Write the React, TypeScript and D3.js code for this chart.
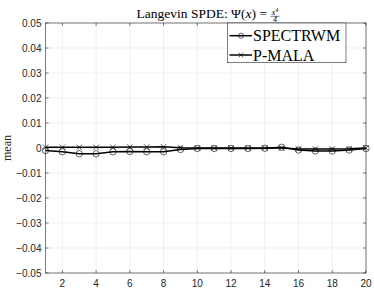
import React, { useEffect, useRef } from "react";
import * as d3 from "d3";

// iteration index
const steps = [1, 2, 3, 4, 5, 6, 7, 8, 9, 10, 11, 12, 13, 14, 15, 16, 17, 18, 19, 20];
// mean estimates
const spectrwm = [
  -0.001, -0.0015, -0.0023, -0.0023, -0.0015, -0.0014, -0.0015, -0.0015, -0.0006, -0.0002,
  -0.0002, -0.0002, -0.0002, -0.0001, 0.0003, -0.0008, -0.0012, -0.0012, -0.0008, -0.0002,
];
const pmala = [
  0.0003, 0.0003, 0.0003, 0.0003, 0.0003, 0.0004, 0.0004, 0.0005, 0.0001, 0.0,
  0.0, 0.0, 0.0, 0.0, 0.0, -0.0004, -0.0004, -0.0004, -0.0003, 0.0,
];
const xTicks = [2, 4, 6, 8, 10, 12, 14, 16, 18, 20];
const yTicks = [-0.05, -0.04, -0.03, -0.02, -0.01, 0, 0.01, 0.02, 0.03, 0.04, 0.05];
const seriesNames = ["SPECTRWM", "P-MALA"];

const W = 374;
const H = 292;
const margin = { top: 23, right: 8, bottom: 19, left: 45.5 };

export default function App() {
  const ref = useRef<SVGSVGElement>(null);

  useEffect(() => {
    const svg = d3.select(ref.current);
    svg.selectAll("*").remove();

    const x = d3.scaleLinear().domain([1, 20]).range([margin.left, W - margin.right]);
    const y = d3.scaleLinear().domain([-0.05, 0.05]).range([H - margin.bottom, margin.top]);
    const [x0, x1] = x.range();
    const [y0, y1] = y.range();

    svg.append("rect").attr("x", x0).attr("y", y1).attr("width", x1 - x0).attr("height", y0 - y1).attr("fill", "#fff");

    // grid
    const grid = svg.append("g").attr("stroke", "#e6e6e6").attr("stroke-width", 0.6);
    xTicks.forEach((t) => grid.append("line").attr("x1", x(t)).attr("x2", x(t)).attr("y1", y0).attr("y2", y1));
    yTicks.forEach((t) => grid.append("line").attr("x1", x0).attr("x2", x1).attr("y1", y(t)).attr("y2", y(t)));

    // lines + markers
    const line = d3
      .line<number>()
      .x((d, i) => x(steps[i]))
      .y((d) => y(d));

    svg.append("path").datum(spectrwm).attr("fill", "none").attr("stroke", "#000").attr("stroke-width", 1.5).attr("d", line);
    svg.append("path").datum(pmala).attr("fill", "none").attr("stroke", "#000").attr("stroke-width", 1.5).attr("d", line);

    svg
      .append("g")
      .selectAll("circle")
      .data(spectrwm)
      .join("circle")
      .attr("cx", (d, i) => x(steps[i]))
      .attr("cy", (d) => y(d))
      .attr("r", 3.2)
      .attr("fill", "none")
      .attr("stroke", "#000")
      .attr("stroke-width", 0.6);

    const cross = d3.symbol().type(d3.symbolX).size(22);
    svg
      .append("g")
      .selectAll("path")
      .data(pmala)
      .join("path")
      .attr("transform", (d, i) => `translate(${x(steps[i])},${y(d)})`)
      .attr("d", cross)
      .attr("fill", "none")
      .attr("stroke", "#000")
      .attr("stroke-width", 0.6);

    // axes box and ticks (MATLAB style, ticks inward)
    const ax = svg.append("g").attr("stroke", "#262626").attr("stroke-width", 0.6);
    ax.append("rect").attr("x", x0).attr("y", y1).attr("width", x1 - x0).attr("height", y0 - y1).attr("fill", "none");
    xTicks.forEach((t) => {
      ax.append("line").attr("x1", x(t)).attr("x2", x(t)).attr("y1", y0).attr("y2", y0 - 3);
      ax.append("line").attr("x1", x(t)).attr("x2", x(t)).attr("y1", y1).attr("y2", y1 + 3);
    });
    yTicks.forEach((t) => {
      ax.append("line").attr("x1", x0).attr("x2", x0 + 3).attr("y1", y(t)).attr("y2", y(t));
      ax.append("line").attr("x1", x1).attr("x2", x1 - 3).attr("y1", y(t)).attr("y2", y(t));
    });

    const lbl = svg.append("g").attr("font-family", "Liberation Sans, Arial, sans-serif").attr("font-size", 10).attr("fill", "#262626");
    xTicks.forEach((t) =>
      lbl.append("text").attr("x", x(t)).attr("y", y0 + 14).attr("text-anchor", "middle").text(String(t))
    );
    yTicks.forEach((t) =>
      lbl
        .append("text")
        .attr("x", x0 - 4)
        .attr("y", y(t) + 3.5)
        .attr("text-anchor", "end")
        .text(t === 0 ? "0" : d3.format(".2f")(t))
    );

    // y label
    svg
      .append("text")
      .attr("transform", `translate(11,${y(0)}) rotate(-90)`)
      .attr("text-anchor", "middle")
      .attr("font-family", "Liberation Serif, serif")
      .attr("font-size", 12)
      .attr("fill", "#262626")
      .text("mean");

    // title with fraction
    const tg = svg.append("g").attr("font-family", "Liberation Serif, serif").attr("fill", "#000");
    const tt = tg.append("text").attr("x", 267).attr("y", 18).attr("font-size", 13.5).attr("text-anchor", "end");
    tt.append("tspan").text("Langevin SPDE: \u03A8(");
    tt.append("tspan").attr("font-style", "italic").text("x");
    tt.append("tspan").text(") = ");
    const fx = 275;
    const nm = tg.append("text").attr("x", fx).attr("y", 14.5).attr("font-size", 8).attr("text-anchor", "middle");
    nm.append("tspan").attr("font-style", "italic").text("x");
    nm.append("tspan").attr("font-size", 5.5).attr("dy", -3).text("4");
    tg.append("line").attr("x1", fx - 4.5).attr("x2", fx + 4.5).attr("y1", 16.3).attr("y2", 16.3).attr("stroke", "#000").attr("stroke-width", 0.5);
    tg.append("text").attr("x", fx).attr("y", 22).attr("font-size", 7.5).attr("text-anchor", "middle").attr("font-style", "italic").text("4");

    // legend
    const lg = svg.append("g");
    lg.append("rect").attr("x", 227.3).attr("y", 23).attr("width", 118.7).attr("height", 39.7).attr("fill", "#fff").attr("stroke", "#262626").attr("stroke-width", 0.6);
    const rows = [35.7, 55];
    seriesNames.forEach((n, i) => {
      const ly = rows[i];
      lg.append("line").attr("x1", 229.5).attr("x2", 252).attr("y1", ly).attr("y2", ly).attr("stroke", "#000").attr("stroke-width", 1.5);
      if (i === 0) {
        lg.append("circle").attr("cx", 241).attr("cy", ly).attr("r", 2.6).attr("fill", "none").attr("stroke", "#000").attr("stroke-width", 0.6);
      } else {
        lg.append("path").attr("transform", `translate(241,${ly})`).attr("d", d3.symbol().type(d3.symbolX).size(16)).attr("fill", "none").attr("stroke", "#000").attr("stroke-width", 0.6);
      }
      lg.append("text").attr("x", 253).attr("y", ly + 5.5).attr("font-family", "Liberation Serif, serif").attr("font-size", 16).attr("fill", "#000").text(n);
    });
  }, []);

  return <svg ref={ref} width={W} height={H} style={{ position: "absolute", left: 0, top: 0, background: "#fff" }} />;
}
